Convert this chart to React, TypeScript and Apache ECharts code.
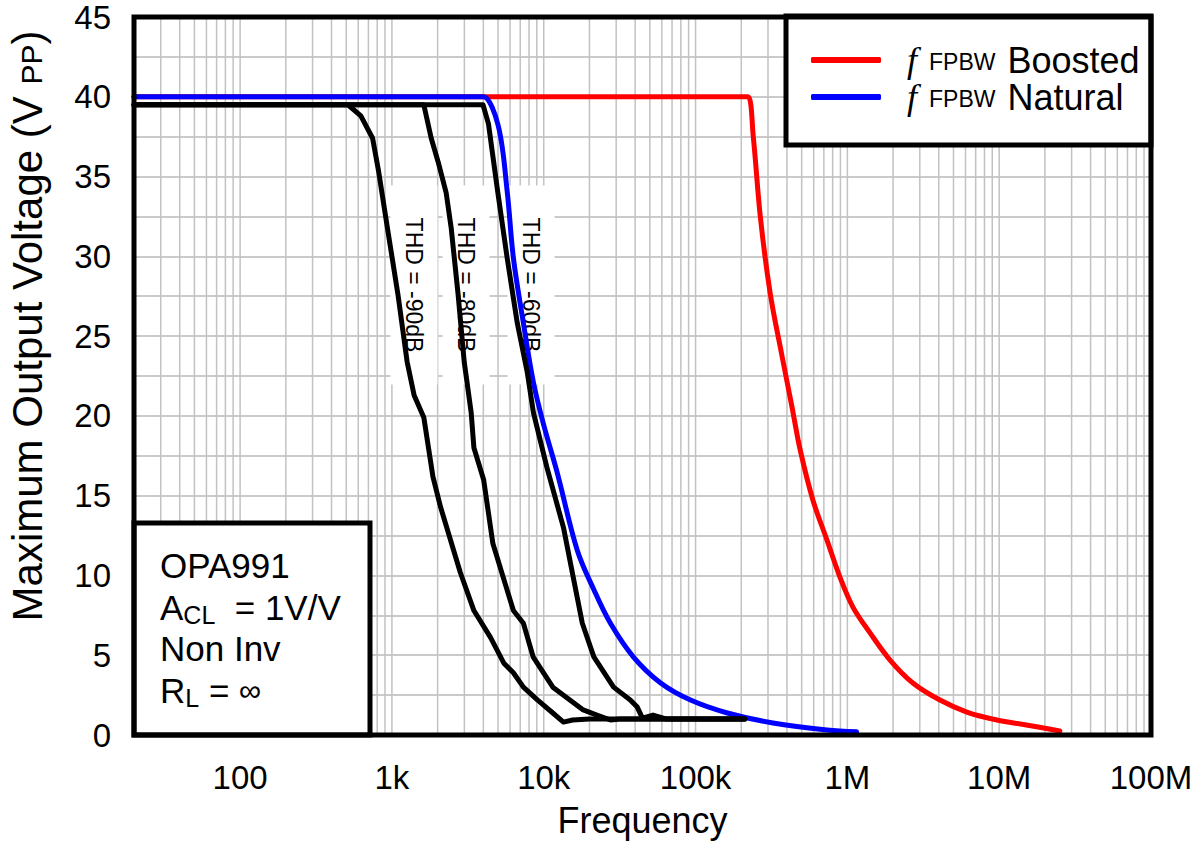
import React, { useEffect, useRef } from "react";
import * as echarts from "echarts";

// ---------- data ----------
const X_TICK_FREQS = [100, 1e3, 1e4, 1e5, 1e6, 1e7, 1e8];
const X_TICK_LABELS = ["100", "1k", "10k", "100k", "1M", "10M", "100M"];
const X_MIN_FREQ = 20;
const X_MAX_FREQ = 1e8;
const GRID_MANTISSAS = [1, 2, 3, 4, 5, 6, 7, 8, 9];
const GRID_DECADES = [10, 100, 1e3, 1e4, 1e5, 1e6, 1e7];

const boostedFreq = [20, 200000, 222000, 240000, 267000, 310000, 372000, 433000, 488000, 594000, 735000, 893000, 1090000, 1410000, 1910000, 2700000, 4070000, 6120000, 9660000, 15100000, 25100000];
const boostedVpp = [40, 40, 40, 37.5, 32.5, 27.7, 23.7, 20.5, 17.9, 14.7, 12.2, 9.9, 8.0, 6.4, 4.7, 3.26, 2.19, 1.44, 0.94, 0.63, 0.25];

const naturalFreq = [20, 3800, 4018, 5010, 5740, 6310, 7350, 8550, 9950, 12300, 16600, 21400, 27500, 38900, 58900, 92700, 162000, 324000, 735000, 1150000];
const naturalVpp = [40, 40, 40, 38.2, 34.1, 29.9, 25.8, 22.1, 19.5, 16.4, 11.6, 9.1, 7.0, 4.9, 3.26, 2.19, 1.38, 0.75, 0.31, 0.2];

const thd60Freq = [20, 3981, 4325, 4966, 5741, 6699, 7798, 8551, 10470, 13490, 15630, 17950, 21380, 28840, 37150, 41300, 44670, 52480, 64570, 211000];
const thd60Vpp = [39.5, 39.5, 38.3, 34.1, 29.9, 25.8, 22.7, 20.2, 16.8, 13.0, 9.9, 7.0, 4.9, 3.0, 2.2, 1.75, 1.06, 1.25, 1.0, 1.0];

const thd80Freq = [20, 1622, 1815, 2018, 2275, 2455, 2729, 2992, 3327, 3467, 4018, 4624, 6310, 7345, 8511, 11480, 18200, 22390, 27540, 31620, 211000];
const thd80Vpp = [39.5, 39.5, 37.4, 35.9, 34.0, 31.8, 27.6, 23.4, 20.2, 18.0, 16.0, 12.0, 7.8, 7.0, 4.9, 3.0, 1.57, 1.25, 0.94, 1.0, 1.0];

const thd90Freq = [20, 513, 624, 746, 818, 933, 1096, 1259, 1400, 1622, 1862, 2089, 2818, 3467, 4467, 5458, 6310, 7345, 9078, 11480, 13490, 15490, 19950, 211000];
const thd90Vpp = [39.5, 39.5, 38.8, 37.4, 35.3, 31.8, 27.6, 23.4, 21.3, 19.9, 16.2, 14.3, 10.2, 7.8, 6.1, 4.5, 3.9, 3.0, 2.2, 1.38, 0.81, 0.94, 1.0, 1.0];

const THD_LABELS = ["THD = -90dB", "THD = -80dB", "THD = -60dB"];
const INFO_LINES = ["OPA991", "A_CL = 1V/V", "Non Inv", "R_L = ∞"];

// ---------- layout ----------
const W = 1202;
const H = 841;
const G_LEFT = 134;
const G_TOP = 17;
const G_RIGHT = 51;
const G_BOTTOM = 106;
const FONT = '"Liberation Sans", Arial, sans-serif';

const lg = (f: number) => Math.log10(f);
const toData = (fs: number[], vs: number[]) => fs.map((f, i) => [lg(f), vs[i]]);

const gridFreqs: number[] = [];
GRID_DECADES.forEach((d) =>
  GRID_MANTISSAS.forEach((m) => {
    const f = d * m;
    if (f > X_MIN_FREQ && f < X_MAX_FREQ) gridFreqs.push(f);
  })
);

export default function App() {
  const ref = useRef<HTMLDivElement>(null);
  useEffect(() => {
    if (!ref.current) return;
    const chart = echarts.init(ref.current, undefined, { renderer: "svg" });
    const plotW = W - G_LEFT - G_RIGHT;
    const plotH = H - G_TOP - G_BOTTOM;

    const lineSeries = (name: string, data: number[][], color: string, z: number, smooth: any = false) => ({
      type: "line",
      name,
      data,
      symbol: "none",
      showSymbol: false,
      smooth,
      z,
      lineStyle: { color, width: 5, cap: "round", join: "round" },
      itemStyle: { color },
      clip: true,
    });

    const option: any = {
      animation: false,
      backgroundColor: "#fff",
      grid: {
        left: G_LEFT,
        top: G_TOP,
        right: G_RIGHT,
        bottom: G_BOTTOM,
        containLabel: false,
        outerBoundsMode: "none",
      },
      xAxis: {
        type: "value",
        min: lg(X_MIN_FREQ),
        max: lg(X_MAX_FREQ),
        name: "Frequency",
        nameLocation: "middle",
        nameGap: 67,
        nameTextStyle: { fontFamily: FONT, fontSize: 36, color: "#000" },
        axisLine: { show: false },
        axisTick: { show: false, customValues: X_TICK_FREQS.map(lg) },
        splitLine: { show: false },
        axisLabel: {
          customValues: X_TICK_FREQS.map(lg),
          formatter: (v: number) => {
            const i = X_TICK_FREQS.findIndex((f) => Math.abs(lg(f) - v) < 1e-6);
            return i >= 0 ? X_TICK_LABELS[i] : "";
          },
          fontFamily: FONT,
          fontSize: 33,
          color: "#000",
          margin: 26,
        },
      },
      yAxis: {
        type: "value",
        min: 0,
        max: 45,
        interval: 5,
        axisLine: { show: false },
        axisTick: { show: false },
        minorTick: { show: false, splitNumber: 2 },
        splitLine: { show: true, lineStyle: { color: "#cacaca", width: 2 } },
        minorSplitLine: { show: true, lineStyle: { color: "#cacaca", width: 2 } },
        axisLabel: { fontFamily: FONT, fontSize: 33, color: "#000", margin: 23 },
      },
      legend: {
        data: ["Boosted", "Natural"],
        orient: "vertical",
        left: 806,
        top: 37,
        z: 20,
        icon: "roundRect",
        itemWidth: 70,
        itemHeight: 6,
        itemGap: 0,
        selectedMode: false,
        formatter: (name: string) => `{f|f}{s|FPBW}{n|${name}}`,
        textStyle: {
          color: "#000",
          rich: {
            f: { fontFamily: '"Liberation Serif", "DejaVu Serif", serif', fontStyle: "italic", fontSize: 36, lineHeight: 38, padding: [0, 0, 0, 21] },
            s: { fontFamily: FONT, fontSize: 23, lineHeight: 38, verticalAlign: "bottom", padding: [0, 0, 6, 12] },
            n: { fontFamily: FONT, fontSize: 36, lineHeight: 38, padding: [0, 0, 0, 12] },
          },
        },
      },
      series: [
        {
          type: "custom",
          name: "grid",
          silent: true,
          z: 0,
          clip: false,
          data: gridFreqs.map((f) => [lg(f), 0]),
          renderItem: (params: any, api: any) => {
            const x = api.coord([api.value(0), 0])[0];
            const yb = api.coord([api.value(0), 0])[1];
            const yt = api.coord([api.value(0), 45])[1];
            return {
              type: "line",
              shape: { x1: x, y1: yt, x2: x, y2: yb },
              style: { stroke: "#c2c2c2", lineWidth: 1.5 },
            };
          },
        },
        lineSeries("Boosted", toData(boostedFreq, boostedVpp), "#ff0000", 2, 0.35),
        lineSeries("Natural", toData(naturalFreq, naturalVpp), "#0000ff", 3, 0.35),
        lineSeries("THD -60dB", toData(thd60Freq, thd60Vpp), "#000000", 4),
        lineSeries("THD -80dB", toData(thd80Freq, thd80Vpp), "#000000", 4),
        lineSeries("THD -90dB", toData(thd90Freq, thd90Vpp), "#000000", 4),
      ],
      graphic: [
        // THD labels (white boxes under the curves)
        ...[
          [414, 285],
          [466, 285],
          [531, 285],
        ].map(([cx, cy], i) => ({
          type: "text",
          x: cx,
          y: cy,
          rotation: -Math.PI / 2,
          z: 1,
          silent: true,
          style: {
            text: THD_LABELS[i],
            fontFamily: FONT,
            fontSize: 23,
            fill: "#000",
            align: "center",
            verticalAlign: "middle",
            backgroundColor: "#fff",
            padding: [12, 32],
          },
        })),
        // plot frame
        {
          type: "rect",
          z: 30,
          silent: true,
          shape: { x: G_LEFT, y: G_TOP, width: plotW, height: plotH },
          style: { fill: "none", stroke: "#000", lineWidth: 5 },
        },
        // legend box
        {
          type: "rect",
          z: 15,
          silent: true,
          shape: { x: 786, y: G_TOP - 1, width: W - G_RIGHT - 786, height: 129 },
          style: { fill: "#fff", stroke: "#000", lineWidth: 5 },
        },
        // info box
        {
          type: "rect",
          z: 15,
          silent: true,
          shape: { x: G_LEFT, y: 523, width: 236, height: H - G_BOTTOM - 523 },
          style: { fill: "#fff", stroke: "#000", lineWidth: 5 },
        },
        {
          type: "text",
          z: 16,
          silent: true,
          x: 160,
          y: 545,
          style: {
            text:
              `{n|${INFO_LINES[0]}}\n` +
              `{n|A}{s|CL}{n|  = 1V/V}\n` +
              `{n|${INFO_LINES[2]}}\n` +
              `{n|R}{s|L}{n| = }{i|∞}`,
            fill: "#000",
            rich: {
              n: { fontFamily: FONT, fontSize: 35, lineHeight: 41.5, fill: "#000" },
              s: { fontFamily: FONT, fontSize: 25, lineHeight: 41.5, verticalAlign: "bottom", padding: [0, 0, 1, 0], fill: "#000" },
              i: { fontFamily: FONT, fontSize: 31, lineHeight: 41.5, fill: "#000" },
            },
          },
        },
        // y axis title
        {
          type: "text",
          z: 16,
          silent: true,
          x: 27,
          y: 326,
          rotation: Math.PI / 2,
          style: {
            text: "{n|Maximum Output Voltage (V }{s|PP}{n|)}",
            align: "center",
            verticalAlign: "middle",
            rich: {
              n: { fontFamily: FONT, fontSize: 42, lineHeight: 46, fill: "#000" },
              s: { fontFamily: FONT, fontSize: 30, lineHeight: 46, verticalAlign: "bottom", padding: [0, 0, 4, 0], fill: "#000" },
            },
          },
        },
      ],
    };
    chart.setOption(option);
    return () => chart.dispose();
  }, []);
  return (
    <div
      ref={ref}
      style={{ position: "absolute", left: 0, top: 0, width: W, height: H, background: "#fff" }}
    />
  );
}
